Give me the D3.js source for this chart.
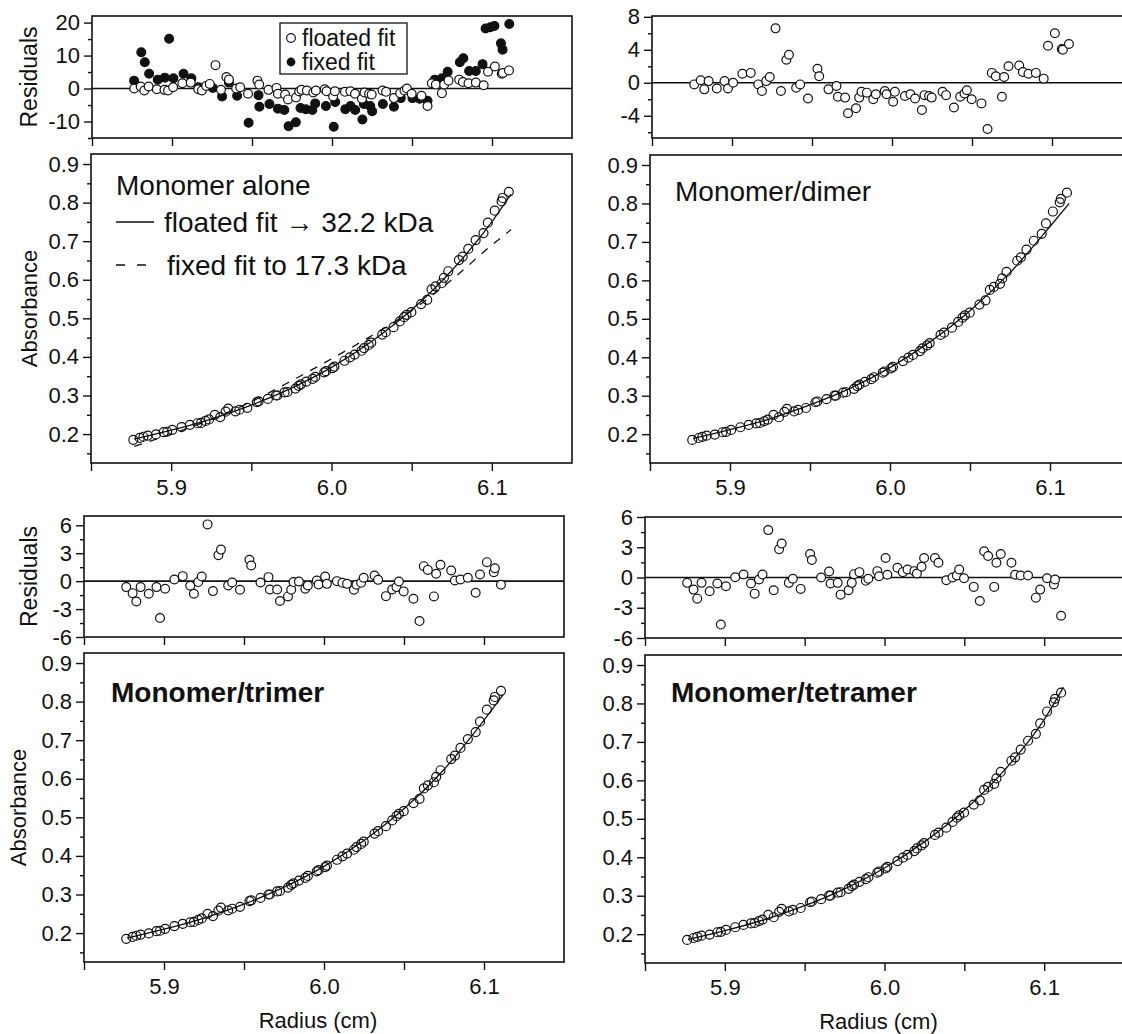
<!DOCTYPE html>
<html><head><meta charset="utf-8">
<script src="https://cdn.jsdelivr.net/npm/d3@7"></script>
<style>
body{margin:0;background:#fff}
svg{display:block}
text{font-family:"Liberation Sans",Arial,sans-serif;fill:#111}
</style>
</head><body>
<svg id="c" width="1122" height="1034"></svg>
<script>
// ---------------- DATA ----------------
const radius = [5.8764,5.8804,5.8827,5.8854,5.8905,5.8953,5.8975,5.9007,5.9065,5.9117,
5.9164,5.9187,5.9214,5.9236,5.9272,5.9306,5.9340,5.9356,5.9401,5.9426,
5.9475,5.9534,5.9545,5.9603,5.9653,5.9662,5.9707,5.9725,5.9775,5.9795,
5.9809,5.9843,5.9883,5.9899,5.9955,5.9966,6.0007,6.0018,6.0081,6.0115,
6.0144,6.0187,6.0203,6.0232,6.0248,6.0316,6.0338,6.0387,6.0426,6.0453,
6.0468,6.0498,6.0559,6.0597,6.0624,6.0649,6.0687,6.0701,6.0728,6.0795,
6.0818,6.0853,6.0899,6.0948,6.0975,6.1018,6.1061,6.1068,6.1106];
const absorbance = [0.185,0.190,0.193,0.196,0.199,0.205,0.206,0.211,0.218,0.224,
0.228,0.229,0.234,0.238,0.250,0.244,0.258,0.266,0.259,0.263,
0.268,0.283,0.285,0.291,0.300,0.300,0.308,0.309,0.318,0.325,
0.329,0.336,0.343,0.348,0.360,0.363,0.371,0.375,0.390,0.399,
0.406,0.416,0.423,0.431,0.437,0.458,0.464,0.477,0.492,0.503,
0.509,0.516,0.537,0.548,0.575,0.583,0.591,0.605,0.622,0.651,
0.660,0.680,0.703,0.721,0.748,0.779,0.803,0.812,0.828];

// residuals, floated fit (monomer alone)
const resFloatedAlone = [0,0.6,-0.6,0.6,-0.2,-0.4,-0.6,0.4,1.6,1.8,
-0.2,-0.6,0.8,1.4,7.1,-0.4,3.5,2.7,0,0.4,
-1.6,2.4,1.2,-0.4,0.2,-1.6,-1.8,-3.3,-2.7,-0.9,
-0.4,-0.6,-1.2,-0.6,-0.2,-0.8,-2.4,-0.8,-1.0,-0.8,
-1.6,-3.1,-1.2,-1.6,-1.8,-0.6,-1.0,-2.9,-1.4,-0.6,
0,-1.6,-2.2,-5.3,1.6,1.2,-1.4,1.2,2.4,2.7,
2.0,1.6,1.8,1.0,5.1,6.7,4.5,4.7,5.5];
// residuals, fixed fit to 17.3 kDa
const fixedRadius = [5.8763,5.8808,5.8830,5.8857,5.8911,5.8955,5.8982,5.9009,5.9072,5.9121,
5.9166,5.9255,5.9313,5.9356,5.9407,5.9479,5.9541,5.9546,5.9609,5.9662,
5.9702,5.9729,5.9774,5.9803,5.9837,5.9877,5.9895,5.9962,6.0011,6.0020,
6.0083,6.0116,6.0145,6.0190,6.0199,6.0239,6.0251,6.0318,6.0387,6.0430,
6.0503,6.0548,6.0597,6.0642,6.0687,6.0723,6.0799,6.0821,6.0857,6.0899,
6.0941,6.0960,6.0990,6.1015,6.1056,6.1066,6.1108];
const resFixedAlone = [2.4,11.0,8.0,4.5,2.7,3.3,15.1,3.1,4.5,3.1,
0.4,0.2,-2.4,1.8,-2.2,-10.4,-2.0,-5.5,-4.7,-6.1,
-6.5,-11.4,-10.2,-5.9,-6.3,-6.5,-4.5,-5.3,-11.6,-4.1,
-6.3,-5.3,-6.5,-9.4,-4.7,-5.3,-6.9,-4.7,-5.5,-2.9,
-2.9,-3.1,-3.7,2.7,3.1,5.1,8.0,9.2,5.3,5.3,
7.4,18.2,18.6,19.0,13.7,11.8,19.6];
const resDimer = [-0.2,0.3,-0.8,0.2,-0.7,0.2,-0.7,0,1.1,1.2,
-0.2,-1.0,0.2,0.7,6.6,-1.0,2.8,3.4,-0.6,-0.2,
-1.9,1.7,0.8,-0.8,-0.4,-1.7,-1.8,-3.7,-3.1,-1.8,
-1.1,-1.2,-2.0,-1.4,-1.0,-1.4,-2.3,-1.1,-1.6,-1.4,
-1.9,-3.3,-1.5,-1.6,-1.8,-1.1,-1.5,-3.0,-1.7,-1.3,
-0.9,-2.0,-2.5,-5.6,1.2,0.8,-1.7,0.7,2.0,2.1,
1.3,1.1,1.2,0.5,4.5,6.0,4.1,4.0,4.7];
const resTrimer = [-0.64,-1.29,-2.18,-0.64,-1.36,-0.64,-3.96,-0.82,0.18,0.54,
-0.5,-1.36,-0.1,0.5,6.1,-1.07,2.79,3.39,-0.46,-0.14,
-0.93,2.29,1.68,-0.14,0.43,-0.89,-0.89,-2.14,-1.64,-0.93,
-0.1,-0.04,-0.82,-0.46,0.07,-0.36,0.5,-0.29,0,-0.18,
-0.29,-0.93,-0.39,-0.18,0.36,0.61,0.14,-1.61,-0.89,-0.64,
-0.04,-1.1,-1.89,-4.29,1.61,1.21,-1.64,0.79,1.75,1.14,
0.07,0.18,0.36,-1.25,0.71,2.04,0.96,1.39,-0.39];
const resTetramer = [-0.53,-1.2,-2.1,-0.53,-1.37,-0.6,-4.67,-0.87,0.03,0.3,
-0.6,-1.6,-0.2,0.3,4.7,-1.27,2.8,3.37,-0.53,-0.13,
-1.13,2.33,1.73,0,0.6,-0.6,-0.53,-1.7,-1.27,-0.53,
0.33,0.53,-0.33,-0.13,0.63,0.13,1.93,0.27,0.97,0.53,
0.8,0.63,0.4,1.07,1.93,1.93,1.47,-0.27,0,0.2,
0.8,-0.07,-0.93,-2.33,2.6,2.13,-0.93,1.47,2.33,1.47,
0.27,0.2,0.2,-2.0,-1.2,-0.07,-0.7,-0.2,-3.8];

// fitted curves
const fitRadius = [5.877,5.900,5.925,5.950,5.975,6.000,6.025,6.050,6.075,6.100,6.112];
const fitFloatedAlone = [0.187,0.210,0.239,0.275,0.319,0.373,0.440,0.522,0.624,0.750,0.822];
const fitFixedAlone   = [0.168,0.200,0.238,0.284,0.338,0.395,0.455,0.520,0.600,0.690,0.730];
const fitDimer        = [0.189,0.212,0.240,0.276,0.319,0.373,0.440,0.521,0.620,0.740,0.800];
const fitTrimer       = [0.187,0.210,0.239,0.275,0.319,0.373,0.440,0.522,0.624,0.752,0.818];
const fitTetramer     = [0.186,0.209,0.238,0.274,0.318,0.372,0.440,0.522,0.626,0.758,0.842];

const xTickValues = [5.85,5.9,5.95,6.0,6.05,6.1];
const xTickLabels = ["5.9","6.0","6.1"];
const absTicks = [0.2,0.3,0.4,0.5,0.6,0.7,0.8,0.9];
const absMinor = [0.15,0.25,0.35,0.45,0.55,0.65,0.75,0.85];
const panelTitles = ["Monomer alone","Monomer/dimer","Monomer/trimer","Monomer/tetramer"];
const legendResiduals = ["floated fit","fixed fit"];
const legendFits = ["floated fit \u2192 32.2 kDa","fixed fit to 17.3 kDa"];

// ---------------- DRAWING ----------------
const svg = d3.select("#c");
const FONT = 22;
const INK = "#111";

function frame(g, x, y){
  const [x0,x1] = x.range(), [y1,y0] = y.range();
  g.append("rect").attr("x",x0).attr("y",y0).attr("width",x1-x0).attr("height",y1-y0)
   .attr("fill","none").attr("stroke",INK).attr("stroke-width",1.6);
}
function styleAxis(sel){
  sel.select(".domain").remove();
  sel.selectAll("line").attr("stroke",INK).attr("stroke-width",1.4);
  sel.selectAll("text").attr("font-size",FONT).attr("fill",INK)
     .style("font-family","'Liberation Sans',Arial,sans-serif");
}
function xAxisBottom(g, x, y, labels){
  const fmt = d3.format(".1f");
  const ax = g.append("g").attr("transform",`translate(0,${y.range()[0]})`)
    .call(d3.axisBottom(x).tickValues(xTickValues).tickSize(8).tickPadding(8)
      .tickFormat(d => {
        if(!labels) return "";
        const onTenth = Math.abs(d*10-Math.round(d*10))<1e-6;
        const s = fmt(d);
        return onTenth && xTickLabels.includes(s) ? s : "";
      }));
  styleAxis(ax);
}
function yAxisLeft(g, x, y, major, minor, fmt){
  const a1 = g.append("g").attr("transform",`translate(${x.range()[0]},0)`)
    .call(d3.axisLeft(y).tickValues(major).tickSize(8).tickPadding(4).tickFormat(fmt));
  styleAxis(a1);
  const a2 = g.append("g").attr("transform",`translate(${x.range()[0]},0)`)
    .call(d3.axisLeft(y).tickValues(minor).tickSize(4).tickFormat(""));
  styleAxis(a2);
}

function residualPanel(cfg){
  const g = svg.append("g");
  const x = d3.scaleLinear().domain([5.85,6.15]).range(cfg.xr);
  const y = d3.scaleLinear().domain(cfg.yd).range(cfg.yr);
  g.append("line").attr("x1",cfg.xr[0]).attr("x2",cfg.xr[1]).attr("y1",y(0)).attr("y2",y(0))
    .attr("stroke",INK).attr("stroke-width",1.6);
  cfg.series.forEach(s => {
    g.selectAll(null).data(d3.zip(s.r, s.v)).join("circle")
      .attr("cx",d=>x(d[0])).attr("cy",d=>y(d[1])).attr("r",4.4)
      .attr("fill", s.filled ? INK : "#fff").attr("stroke",INK).attr("stroke-width",1.2);
  });
  frame(g,x,y);
  yAxisLeft(g,x,y,cfg.major,cfg.minor,d=>String(d));
  xAxisBottom(g,x,y,false);
  if(cfg.title){
    g.append("text").attr("transform",`translate(${cfg.titleX},${(cfg.yr[0]+cfg.yr[1])/2}) rotate(-90)`)
     .attr("text-anchor","middle").attr("dy","0.35em").attr("font-size",23).text("Residuals");
  }
  return {g,x,y};
}

function mainPanel(cfg){
  const g = svg.append("g");
  const x = d3.scaleLinear().domain([5.85,6.15]).range(cfg.xr);
  const y = d3.scaleLinear().domain([0.125,0.926]).range(cfg.yr);
  const line = d3.line().x(d=>x(d[0])).y(d=>y(d[1])).curve(d3.curveMonotoneX);
  cfg.fits.forEach(f => {
    g.append("path").attr("d",line(d3.zip(fitRadius,f.v))).attr("fill","none")
      .attr("stroke",INK).attr("stroke-width",1.3).attr("stroke-dasharray",f.dash||null);
  });
  g.selectAll(null).data(d3.zip(radius,absorbance)).join("circle")
    .attr("cx",d=>x(d[0])).attr("cy",d=>y(d[1])).attr("r",4.5)
    .attr("fill","none").attr("stroke",INK).attr("stroke-width",1.2);
  frame(g,x,y);
  yAxisLeft(g,x,y,absTicks,absMinor,d3.format(".1f"));
  xAxisBottom(g,x,y,true);
  if(cfg.yTitleX){
    g.append("text").attr("transform",`translate(${cfg.yTitleX},${(cfg.yr[0]+cfg.yr[1])/2}) rotate(-90)`)
     .attr("text-anchor","middle").attr("dy","0.35em").attr("font-size",FONT).text("Absorbance");
  }
  if(cfg.xTitle){
    g.append("text").attr("x",(x(5.85)+x(6.15))/2 - 6).attr("y",cfg.yr[0]+66)
     .attr("text-anchor","middle").attr("font-size",FONT).text("Radius (cm)");
  }
  g.append("text").attr("x",cfg.titlePos[0]).attr("y",cfg.titlePos[1])
    .attr("font-size",28).attr("font-weight",cfg.bold?"bold":"normal").text(cfg.title);
  return {g,x,y};
}

// top-left residuals
const tlr = residualPanel({xr:[92,572], yr:[138,16], yd:[-15,22], major:[-10,0,10,20], minor:[-15,-5,5,15],
  title:true, titleX:29,
  series:[{r:fixedRadius, v:resFixedAlone, filled:true},{r:radius, v:resFloatedAlone, filled:false}]});
// legend box
{
  const g = tlr.g;
  g.append("rect").attr("x",280).attr("y",23).attr("width",127).attr("height",51)
    .attr("fill","#fff").attr("stroke",INK).attr("stroke-width",1.3);
  g.append("circle").attr("cx",291).attr("cy",38).attr("r",4.4).attr("fill","#fff").attr("stroke",INK).attr("stroke-width",1.2);
  g.append("circle").attr("cx",291).attr("cy",62).attr("r",4.4).attr("fill",INK);
  g.append("text").attr("x",302).attr("y",46).attr("font-size",23).text(legendResiduals[0]);
  g.append("text").attr("x",302).attr("y",70).attr("font-size",23).text(legendResiduals[1]);
}
// top-right residuals
residualPanel({xr:[652,1132], yr:[138,16], yd:[-6.7,8.1], major:[-4,0,4,8], minor:[-6,-2,2,6],
  title:false, series:[{r:radius, v:resDimer, filled:false}]});
// bottom-left residuals
residualPanel({xr:[84,564], yr:[637,516], yd:[-6,7], major:[-6,-3,0,3,6], minor:[-4.5,-1.5,1.5,4.5],
  title:true, titleX:29, series:[{r:radius, v:resTrimer, filled:false}]});
// bottom-right residuals
residualPanel({xr:[645,1124], yr:[638,517], yd:[-6,6], major:[-6,-3,0,3,6], minor:[-4.5,-1.5,1.5,4.5],
  title:false, series:[{r:radius, v:resTetramer, filled:false}]});

// main panels
const tlm = mainPanel({xr:[91,572], yr:[463,154], yTitleX:29, title:panelTitles[0], titlePos:[116,195],
  fits:[{v:fitFloatedAlone},{v:fitFixedAlone, dash:"8,8"}]});
{
  const g = tlm.g;
  g.append("line").attr("x1",116).attr("x2",154).attr("y1",222).attr("y2",222).attr("stroke",INK).attr("stroke-width",1.3);
  g.append("text").attr("x",164).attr("y",232).attr("font-size",28).text(legendFits[0]);
  g.append("line").attr("x1",116).attr("x2",146).attr("y1",265).attr("y2",265).attr("stroke",INK)
    .attr("stroke-width",1.3).attr("stroke-dasharray","9,12");
  g.append("text").attr("x",167).attr("y",275).attr("font-size",28).text(legendFits[1]);
}
mainPanel({xr:[650,1130], yr:[463,155], title:panelTitles[1], titlePos:[675,201],
  fits:[{v:fitDimer}]});
mainPanel({xr:[84,564], yr:[962,653], yTitleX:18, xTitle:true, title:panelTitles[2], titlePos:[111,702], bold:true,
  fits:[{v:fitTrimer}]});
mainPanel({xr:[645,1124], yr:[963,655], xTitle:true, title:panelTitles[3], titlePos:[671,702], bold:true,
  fits:[{v:fitTetramer}]});
</script>
</body></html>
